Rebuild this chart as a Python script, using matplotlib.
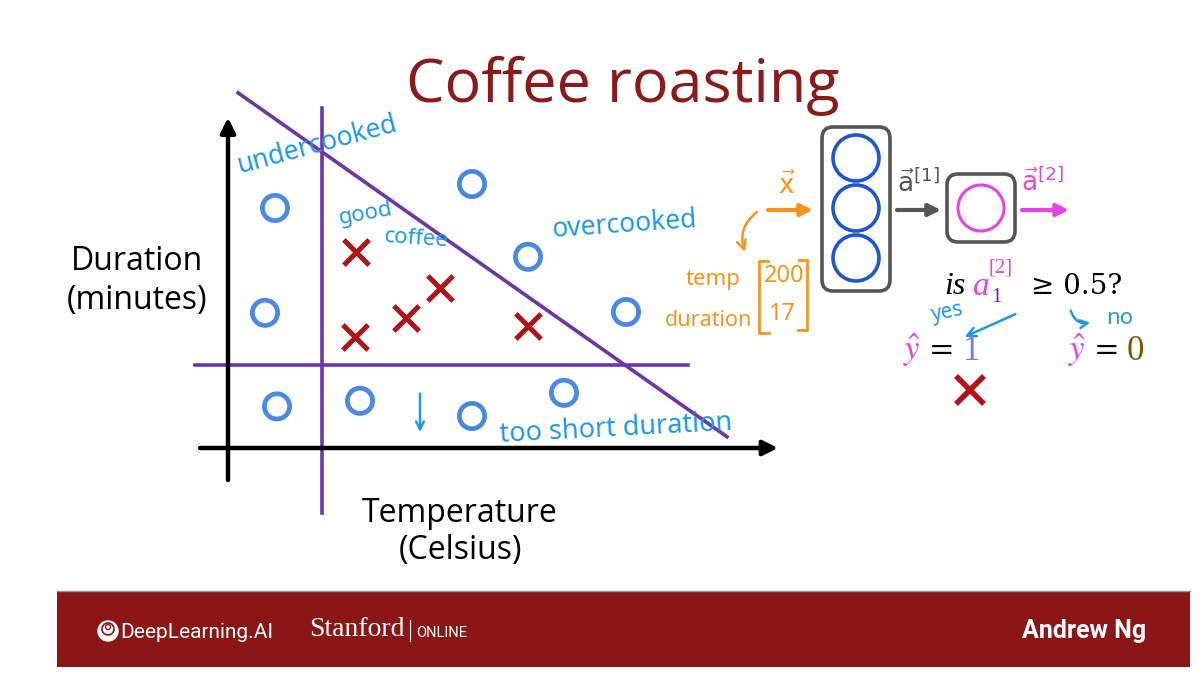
import matplotlib.pyplot as plt
import matplotlib.patches as patches

# scatter data (temperature in C, duration in minutes)
good_temp = [182, 203, 194.5, 181.75, 225]
good_dur = [14.45, 14.0, 13.62, 13.39, 13.52]
bad_temp = [161.75, 211, 159.25, 225, 249.5, 162.25, 183, 211, 234]
bad_dur = [15.0, 15.3, 13.69, 14.39, 13.7, 12.52, 12.59, 12.4, 12.69]

# decision boundaries
temp_cut = 173.5
dur_cut = 13.04
diag_temp = [152.5, 274.75]
diag_dur = [16.44, 12.14]

# network diagram
hidden_units = [158, 208, 258]
x_values = ["200", "17"]
x_names = ["temp", "duration"]

BLUE = "#4a88e6"
RED = "#b01418"
PURPLE = "#6d35a8"
HAND = "#1e98e8"
ORANGE = "#f5951f"
MAGENTA = "#e444e4"
GRAY = "#555555"

fig = plt.figure(figsize=(12.04, 6.74), dpi=100)

# slide layer in pixel coordinates
ov = fig.add_axes([0, 0, 1, 1])
ov.set_xlim(0, 1204)
ov.set_ylim(674, 0)
ov.axis("off")

ov.text(623, 86, "Coffee roasting", family="Open Sans", fontsize=44,
        color="#8b1a1a", ha="center", va="center")

ov.text(137, 281, "Duration\n(minutes)", family="Open Sans", fontsize=23,
        ha="center", va="center", linespacing=1.2)
ov.text(460, 532, "Temperature\n(Celsius)", family="Open Sans", fontsize=23,
        ha="center", va="center", linespacing=1.2)

# footer band
ov.add_patch(patches.Rectangle((57, 592), 1133, 75, color="#8c1515", lw=0))
ov.plot([57, 1190], [591, 591], color="#999999", lw=1)
ov.add_patch(patches.Circle((108, 631), 10, color="white"))
ov.add_patch(patches.Circle((108, 629), 6, fill=False, ec="#8c1515", lw=1.2))
ov.add_patch(patches.Circle((108, 627), 2.5, fill=False, ec="#8c1515", lw=1.0))
ov.text(120, 632, "DeepLearning.AI", family="Roboto", fontsize=15,
        color="white", ha="left", va="center")
ov.text(309, 630, "Stanford", family="Liberation Serif", fontsize=20,
        color="white", ha="left", va="center")
ov.plot([410, 410], [620, 641], color="white", lw=0.8)
ov.text(416, 633, "ONLINE", family="Roboto", fontsize=10.5,
        color="white", ha="left", va="center")
ov.text(1146, 631, "Andrew Ng", family="Roboto", fontsize=18,
        weight="bold", color="white", ha="right", va="center")

# network boxes
ov.add_patch(patches.FancyBboxPatch((822, 127), 68, 164,
             boxstyle="round,pad=0,rounding_size=11", fill=False, ec=GRAY, lw=2.6))
for cy in hidden_units:
    ov.add_patch(patches.Circle((856, cy), 23, fill=False, ec="#1f55cf", lw=2.6))
ov.add_patch(patches.FancyBboxPatch((947, 174), 68, 68,
             boxstyle="round,pad=0,rounding_size=11", fill=False, ec=GRAY, lw=2.6))
ov.add_patch(patches.Circle((981, 208), 23, fill=False, ec=MAGENTA, lw=2.2))

for x0, x1, c in [(768, 813, ORANGE), (897, 941, GRAY), (1022, 1069, MAGENTA)]:
    ov.annotate("", xy=(x1, 210), xytext=(x0, 210),
                arrowprops=dict(arrowstyle="-|>", color=c, lw=3, mutation_scale=18,
                                shrinkA=0, shrinkB=0))
ov.text(787, 186, r"$\vec{\mathrm{x}}$", fontsize=19, color=ORANGE, ha="center", va="center")
ov.text(918, 184, r"$\vec{\mathrm{a}}^{[1]}$", fontsize=19, color=GRAY, ha="center", va="center")
ov.text(1042, 183, r"$\vec{\mathrm{a}}^{[2]}$", fontsize=19, color=MAGENTA, ha="center", va="center")

# input vector annotation
ov.annotate("", xy=(745, 252), xytext=(757, 212),
            arrowprops=dict(arrowstyle="->", color=ORANGE, lw=1.8, mutation_scale=16,
                            connectionstyle="arc3,rad=0.35", shrinkA=0, shrinkB=0))
ov.text(741, 280, x_names[0], family="Noto Sans", fontsize=16, color=ORANGE, ha="right", va="center")
ov.text(752, 320, x_names[1], family="Noto Sans", fontsize=15.5, color=ORANGE, ha="right", va="center")
ov.text(784, 276, x_values[0], family="Noto Sans", fontsize=17, color=ORANGE, ha="center", va="center")
ov.text(782, 314, x_values[1], family="Noto Sans", fontsize=17, color=ORANGE, ha="center", va="center")
ov.plot([768, 759, 759, 769], [261, 261, 333, 333], color=ORANGE, lw=2)
ov.plot([799, 807, 807, 798], [260, 260, 330, 330], color=ORANGE, lw=2)

# threshold question
ov.text(944, 286, "is", family="Liberation Serif", style="italic", fontsize=23,
        ha="left", va="center")
ov.text(973, 287, "a", family="Liberation Serif", style="italic", fontsize=24,
        color=MAGENTA, ha="left", va="center")
ov.text(989, 268, "[2]", family="Liberation Serif", fontsize=15,
        color=MAGENTA, ha="left", va="center")
ov.text(991, 297, "1", family="Liberation Serif", fontsize=15,
        color="#6a2a9a", ha="left", va="center")
ov.text(1031, 286, "≥ 0.5?", family="DejaVu Serif", fontsize=20,
        ha="left", va="center")
ov.text(948, 312, "yes", family="Noto Sans", fontsize=15, color=HAND,
        rotation=12, ha="center", va="center")
ov.annotate("", xy=(962, 338), xytext=(1018, 313),
            arrowprops=dict(arrowstyle="->", color=HAND, lw=1.8, mutation_scale=16))
ov.annotate("", xy=(1093, 322), xytext=(1070, 308),
            arrowprops=dict(arrowstyle="->", color=HAND, lw=1.8,
                            connectionstyle="arc3,rad=0.5", mutation_scale=14))
ov.text(1120, 319, "no", family="Noto Sans", fontsize=16, color=HAND, ha="center", va="center")

for x_hat, x_val, val, col in [(912, 972, "1", "#7c7ce6"), (1077, 1135, "0", "#8a5200")]:
    ov.text(x_hat, 350, r"$\hat{y}$", fontsize=25, color=MAGENTA, ha="center", va="center",
            math_fontfamily="stix")
    ov.text(x_hat + 30, 352, "=", family="DejaVu Serif", fontsize=22, ha="center", va="center")
    ov.text(x_val, 352, val, family="Liberation Serif", fontsize=25, color=col,
            ha="center", va="center")
ov.plot([970], [390], marker="x", ms=20, mew=4, color=RED)

# scatter plot axes (temperature vs duration)
ax = fig.add_axes([190 / 1204, 154 / 674, 600 / 1204, 440 / 674])
ax.set_xlim(140.5, 290.5)
ax.set_ylim(11.1, 16.6)
ax.axis("off")
ax.patch.set_visible(False)

ax.annotate("", xy=(150, 16.13), xytext=(150, 11.6),
            arrowprops=dict(arrowstyle="-|>", color="black", lw=3.2, mutation_scale=22,
                            shrinkA=0, shrinkB=0))
ax.annotate("", xy=(287.5, 12.0), xytext=(143, 12.0),
            arrowprops=dict(arrowstyle="-|>", color="black", lw=3.2, mutation_scale=22,
                            shrinkA=0, shrinkB=0))

ax.plot([temp_cut, temp_cut], [11.19, 16.25], color=PURPLE, lw=2.6)
ax.plot([141.75, 265], [dur_cut, dur_cut], color=PURPLE, lw=2.6)
ax.plot(diag_temp, diag_dur, color=PURPLE, lw=2.6)

ax.scatter(bad_temp, bad_dur, s=330, facecolors="none", edgecolors=BLUE, linewidths=3.4, zorder=3)
ax.scatter(good_temp, good_dur, s=330, marker="x", color=RED, linewidths=3.6, zorder=3)

hand = dict(family="Noto Sans", color=HAND, ha="center", va="center")
ax.text(172.5, 15.79, "undercooked", fontsize=19, rotation=15, **hand)
ax.text(184.5, 14.93, "good", fontsize=16, rotation=10, **hand)
ax.text(197, 14.62, "coffee", fontsize=16, rotation=-4, **hand)
ax.text(249, 14.79, "overcooked", fontsize=19, rotation=4, **hand)
ax.text(247, 12.24, "too short duration", fontsize=19.5, rotation=3, **hand)
ax.annotate("", xy=(198, 12.2), xytext=(198, 12.68),
            arrowprops=dict(arrowstyle="->", color=HAND, lw=1.8, mutation_scale=14,
                            shrinkA=0, shrinkB=0))

fig.savefig("out.png", dpi=100)
plt.close(fig)
